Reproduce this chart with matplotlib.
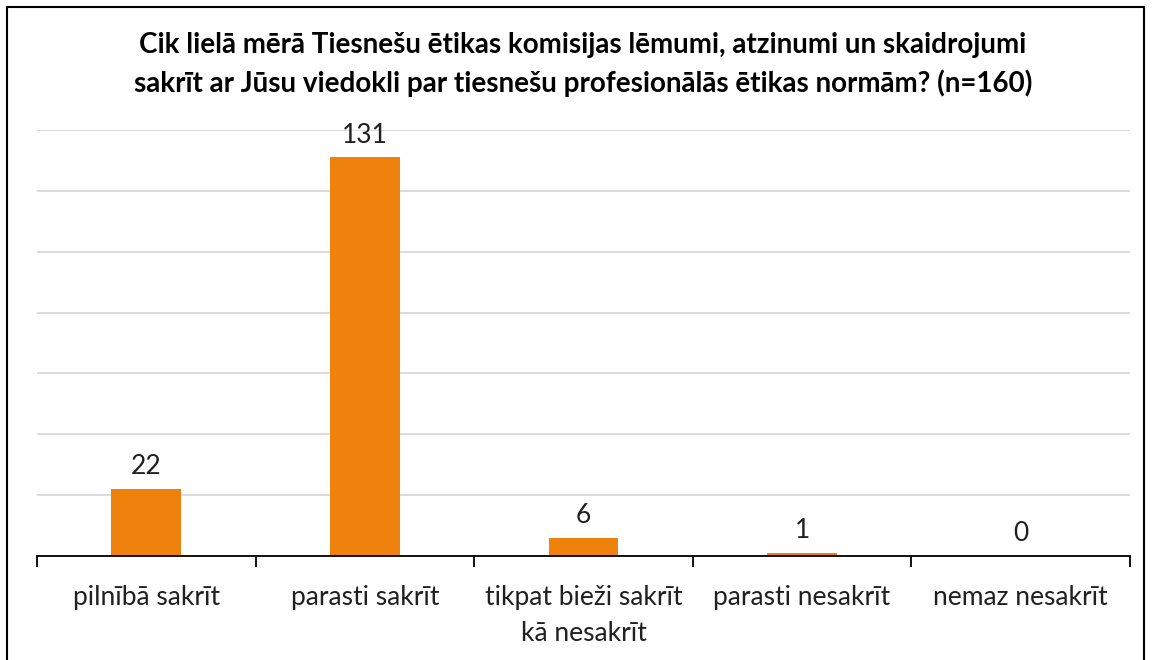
import numpy as np
import matplotlib.pyplot as plt
from matplotlib.patches import Rectangle

# Dati
categories = ['pilnībā sakrīt', 'parasti sakrīt', 'tikpat bieži sakrīt\nkā nesakrīt',
              'parasti nesakrīt', 'nemaz nesakrīt']
counts = [22, 131, 6, 1, 0]
title = ('Cik lielā mērā Tiesnešu ētikas komisijas lēmumi, atzinumi un skaidrojumi\n'
         'sakrīt ar Jūsu viedokli par tiesnešu profesionālās ētikas normām? (n=160)')

plt.rcParams['font.family'] = ['Lato', 'DejaVu Sans']

fig = plt.figure(figsize=(11.52, 6.6), dpi=100)
ax = fig.add_axes([0.0321, 0.1576, 0.9488, 0.6454])

x = np.arange(len(categories))
bars = ax.bar(x, counts, width=0.32, color='#EF820D', zorder=3)

for xi, c in zip(x, counts):
    ax.annotate(str(c), (xi, c), xytext=(0, 7), textcoords='offset points',
                ha='center', va='bottom', fontsize=19, color='#202020')

ax.set_xlim(-0.5, len(categories) - 0.5)
ax.set_ylim(0, 140)
ax.set_yticks(np.arange(0, 141, 20))
ax.yaxis.grid(True, color='#d9d9d9', linewidth=1.3, zorder=0)
ax.tick_params(axis='y', left=False, labelleft=False)

ax.set_xticks(x)
ax.set_xticklabels(categories, fontsize=19, color='#202020', linespacing=1.55)
ax.tick_params(axis='x', which='major', length=0, pad=21)
ax.set_xticks(np.arange(-0.5, len(categories)), minor=True)
ax.tick_params(axis='x', which='minor', length=8, width=1.3, color='black', direction='out')

for s in ['top', 'right', 'left']:
    ax.spines[s].set_visible(False)
ax.spines['bottom'].set_linewidth(1.3)
ax.spines['bottom'].set_zorder(4)

fig.text(0.506, 0.952, title, ha='center', va='top', fontsize=20, fontweight='bold',
         linespacing=1.5, color='black')

# rāmis ap attēlu
fig.patches.append(Rectangle((7 / 1152, -0.05), 1137 / 1152, 1.05 - 7 / 660,
                             transform=fig.transFigure, fill=False,
                             edgecolor='black', linewidth=1.5))

fig.savefig('out.png', dpi=100)
